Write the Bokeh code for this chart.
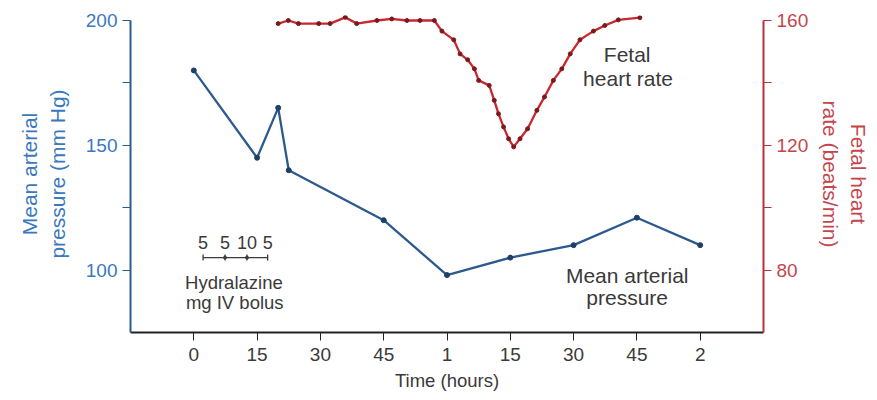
from bokeh.plotting import figure
from bokeh.models import Range1d, LinearAxis, FixedTicker, ColumnDataSource
from bokeh.core.properties import value
from bokeh.embed import file_html
from bokeh.resources import INLINE

# ---- data ----
map_time = [0, 15, 20, 22.5, 45, 60, 75, 90, 105, 120]          # minutes
map_values = [180, 145, 165, 140, 120, 98, 105, 110, 121, 110]  # mm Hg

fhr_time = [20, 22.4, 24.8, 29.6, 32.3, 35.9, 38.6, 43.4, 46.9, 50.5, 53.6, 57.0,
            58.8, 61.6, 63.1, 64.9, 66.5, 67.5, 70.0, 71.2, 72.2, 73.4, 74.6, 75.8,
            77.3, 79.1, 81.3, 83.1, 85.2, 87.2, 89.2, 91.5, 94.7, 97.4, 100.6, 105.7]
fhr_values = [159, 160, 159, 159, 159, 161, 159, 160, 160.5, 160, 160, 160,
              156.6, 153.8, 149.3, 147.4, 144.5, 140.8, 139.2, 134.4, 130.1, 125.9, 122.1, 119.5,
              122.1, 125.3, 131.2, 135.5, 140.8, 144.5, 149.3, 153.8, 156.6, 158.4, 160.2, 160.9]

x_ticks = [0, 15, 30, 45, 60, 75, 90, 105, 120]
x_tick_labels = ["0", "15", "30", "45", "1", "15", "30", "45", "2"]

dose_times = [2.2, 7.4, 12.6, 17.5]
dose_labels = ["5", "5", "10", "5"]

BLUE_TXT = "#3b78bd"
BLUE_LINE = "#2c5a8e"
RED_AX = "#b8323a"
RED_TXT = "#c4464d"
RED_LINE = "#c8282e"
DARK = "#3a3a3a"
FONT = "Liberation Sans"

p = figure(width=875, height=396, output_backend="svg", toolbar_location=None,
           x_range=Range1d(-15, 135), y_range=Range1d(75, 202),
           min_border_left=130, min_border_right=112, min_border_top=15, min_border_bottom=64,
           outline_line_color=None, background_fill_color="white", border_fill_color="white")
p.xgrid.grid_line_color = None
p.ygrid.grid_line_color = None

# bottom axis
xa = p.xaxis[0]
xa.bounds = (-15, 135)
xa.ticker = FixedTicker(ticks=x_ticks, minor_ticks=[])
xa.major_label_overrides = {t: l for t, l in zip(x_ticks, x_tick_labels)}
xa.axis_line_color = "#222222"
xa.axis_line_width = 2
xa.major_tick_line_color = "#222222"
xa.major_tick_out = 8
xa.major_tick_in = 0
xa.major_label_text_font = FONT
xa.major_label_text_font_size = "19px"
xa.major_label_text_color = DARK
xa.major_label_standoff = 7
xa.axis_label = "Time (hours)"
xa.axis_label_text_font = FONT
xa.axis_label_text_font_size = "18.5px"
xa.axis_label_text_font_style = "normal"
xa.axis_label_text_color = DARK
xa.axis_label_standoff = 6

# left axis
ya = p.yaxis[0]
ya.bounds = (75, 200)
ya.ticker = FixedTicker(ticks=[100, 150, 200], minor_ticks=[125, 175])
ya.axis_line_color = BLUE_LINE
ya.axis_line_width = 2
ya.major_tick_line_color = BLUE_LINE
ya.minor_tick_line_color = BLUE_LINE
ya.major_tick_out = 8
ya.major_tick_in = 0
ya.minor_tick_out = 8
ya.minor_tick_in = 0
ya.major_label_text_font = FONT
ya.major_label_text_font_size = "19px"
ya.major_label_text_color = BLUE_TXT
ya.major_label_standoff = 5
ya.axis_label = "Mean arterial\npressure (mm Hg)"
ya.axis_label_text_font = FONT
ya.axis_label_text_font_size = "21px"
ya.axis_label_text_font_style = "normal"
ya.axis_label_text_color = BLUE_TXT
ya.axis_label_standoff = 14

# right axis
p.extra_y_ranges = {"fhr": Range1d(60, 161.6)}
ra = LinearAxis(y_range_name="fhr", bounds=(60, 160),
                ticker=FixedTicker(ticks=[80, 120, 160], minor_ticks=[100, 140]))
ra.axis_line_color = RED_AX
ra.axis_line_width = 2
ra.major_tick_line_color = RED_AX
ra.minor_tick_line_color = RED_AX
ra.major_tick_out = 8
ra.major_tick_in = 0
ra.minor_tick_out = 8
ra.minor_tick_in = 0
ra.major_label_text_font = FONT
ra.major_label_text_font_size = "19px"
ra.major_label_text_color = RED_TXT
ra.major_label_standoff = 5
ra.axis_label = "Fetal heart\nrate (beats/min)"
ra.axis_label_text_font = FONT
ra.axis_label_text_font_size = "21px"
ra.axis_label_text_font_style = "normal"
ra.axis_label_text_color = RED_TXT
ra.axis_label_standoff = 8
p.add_layout(ra, "right")

# MAP series
map_src = ColumnDataSource(dict(t=map_time, v=map_values))
p.line("t", "v", source=map_src, line_color=BLUE_LINE, line_width=2.3)
p.scatter("t", "v", source=map_src, size=5, fill_color="#1f3f66", line_color="#1f3f66")

# FHR series
fhr_src = ColumnDataSource(dict(t=fhr_time, v=fhr_values))
p.line("t", "v", source=fhr_src, line_color=RED_LINE, line_width=2.3, y_range_name="fhr")
p.scatter("t", "v", source=fhr_src, size=4, fill_color="#7a1a1e", line_color="#7a1a1e",
          y_range_name="fhr")

# annotations
ann_x = [102.7, 102.9, 102.7, 102.7]
ann_y = [186.4, 176.6, 98.0, 89.0]
ann_text = ["Fetal", "heart rate", "Mean arterial", "pressure"]
p.text(x=ann_x, y=ann_y, text=ann_text, text_font=value(FONT), text_font_size="21px",
       text_color=DARK, text_align="center", text_baseline="middle")

p.text(x=[9.5, 9.7], y=[95.2, 87.2], text=["Hydralazine", "mg IV bolus"], text_font=value(FONT),
       text_font_size="18.5px", text_color=DARK, text_align="center", text_baseline="middle")

# hydralazine dosing ruler
p.text(x=dose_times, y=[111.1] * len(dose_times), text=dose_labels, text_font=value(FONT),
       text_font_size="18px", text_color=DARK, text_align="center", text_baseline="middle")
p.line(x=[dose_times[0], dose_times[-1]], y=[105.0, 105.0], line_color=DARK, line_width=1.3)
p.segment(x0=dose_times, y0=[103.8] * 4, x1=dose_times, y1=[106.2] * 4,
          line_color=DARK, line_width=1.3)
p.scatter(x=dose_times[1:3], y=[105.0, 105.0], size=3, color=DARK)

open("out.html", "w").write(file_html(p, INLINE))
